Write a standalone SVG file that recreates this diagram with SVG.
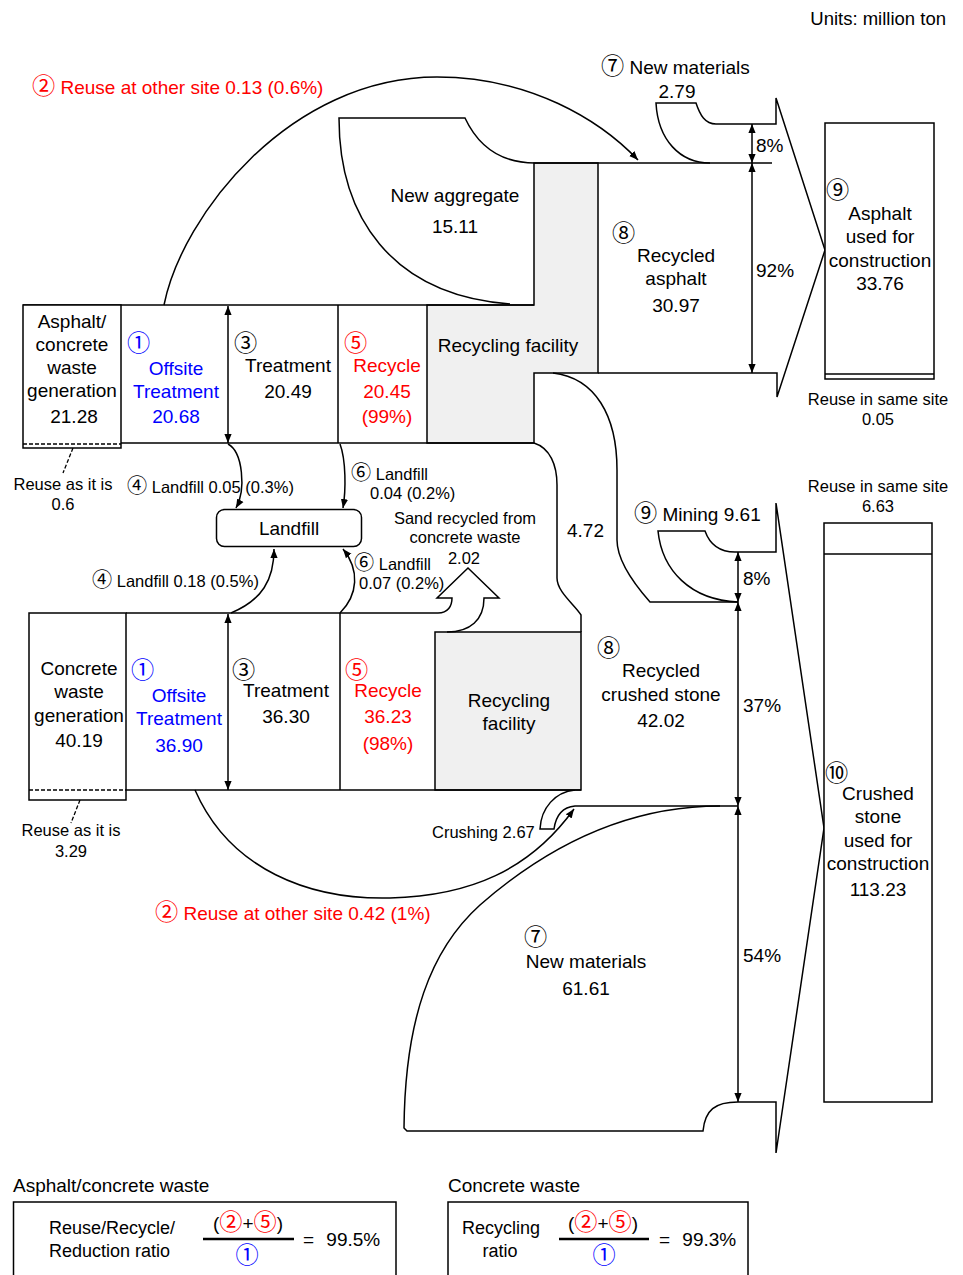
<svg xmlns="http://www.w3.org/2000/svg" width="963" height="1275" viewBox="0 0 963 1275">
<defs>
<marker id="ah" viewBox="0 0 10 10" refX="10" refY="5" markerWidth="9" markerHeight="9" markerUnits="userSpaceOnUse" orient="auto-start-reverse">
<path d="M0,1 L10,5 L0,9 z" fill="#000"/>
</marker>
<style>
text{font-family:"Liberation Sans","Noto Sans CJK JP",sans-serif;font-size:19px;fill:#000}
.s{font-size:16.5px}
.c{text-anchor:middle}
.r{fill:#f00}
.b{fill:#00f}
.k{font-size:1.22em}
.ln{fill:none;stroke:#000;stroke-width:1.5}
.box{fill:#fff;stroke:#000;stroke-width:1.5}
.grey{fill:#f0f0f0;stroke:#000;stroke-width:1.5}
.dash{fill:none;stroke:#000;stroke-width:1.3;stroke-dasharray:4 2}
.arr{fill:none;stroke:#000;stroke-width:1.5;marker-end:url(#ah)}
.dbl{fill:none;stroke:#000;stroke-width:1.5;marker-start:url(#ah);marker-end:url(#ah)}
</style>
</defs>
<rect width="963" height="1275" fill="#fff"/>

<text x="946" y="25" text-anchor="end" style="font-size:18.5px">Units: million ton</text>

<!-- Asphalt flow -->
<g id="asphalt-flow">
<polygon class="grey" points="427,305 534,305 534,163 598,163 598,373 534,373 534,443 427,443"/>
<path class="ln" d="M23,305 L534,305 M121,443 L534,443 M338,305 L338,443"/>
<path class="ln" d="M510,304 C390,295 339,215 339,118 L465,118 C480,150 505,163 535,163 L772,163"/>
<path class="ln" d="M710,163 C680,163 658,140 656,103 L696,103 C700,115 705,124 716,124 L776,124 L776,98 L825,250 L777,397 L777,373 L598,373"/>
<path class="ln" d="M553,373 C595,378 617,415 617,470 L617,540 C617,560 635,585 650,602 L738,602"/>
<path class="ln" d="M534,443 C550,448 557,465 557,485 L557,578 C557,592 575,605 581,615 L581,632"/>
</g>

<g id="asphalt-generation">
<rect class="box" x="23" y="305" width="98" height="143"/>
<line class="dash" x1="23" y1="444" x2="121" y2="444"/>
<text class="c" x="72" y="328">Asphalt/</text>
<text class="c" x="72" y="351">concrete</text>
<text class="c" x="72" y="374">waste</text>
<text class="c" x="72" y="397">generation</text>
<text class="c" x="74" y="423">21.28</text>
</g>
<g id="asphalt-offsite">
<text class="b" x="127" y="351"><tspan class="k">①</tspan></text>
<text class="c b" x="176" y="375">Offsite</text>
<text class="c b" x="176" y="398">Treatment</text>
<text class="c b" x="176" y="423">20.68</text>
</g>
<g id="asphalt-treatment">
<text x="234" y="351"><tspan class="k">③</tspan></text>
<text class="c" x="288" y="372">Treatment</text>
<text class="c" x="288" y="398">20.49</text>
</g>
<g id="asphalt-recycle">
<text class="r" x="344" y="351"><tspan class="k">⑤</tspan></text>
<text class="c r" x="387" y="372">Recycle</text>
<text class="c r" x="387" y="398">20.45</text>
<text class="c r" x="387" y="423">(99%)</text>
</g>
<g id="asphalt-facility">
<text class="c" x="508" y="352">Recycling facility</text>
</g>
<g id="new-aggregate">
<text class="c" x="455" y="202">New aggregate</text>
<text class="c" x="455" y="233">15.11</text>
</g>
<g id="asphalt-new-materials">
<text x="601" y="74"><tspan class="k">⑦</tspan> New materials</text>
<text class="c" x="677" y="98">2.79</text>
</g>
<g id="recycled-asphalt">
<text x="612" y="241"><tspan class="k">⑧</tspan></text>
<text class="c" x="676" y="262">Recycled</text>
<text class="c" x="676" y="285">asphalt</text>
<text class="c" x="676" y="312">30.97</text>
</g>
<g id="asphalt-construction">
<rect class="box" x="825" y="123" width="109" height="256"/>
<line class="ln" x1="825" y1="374" x2="934" y2="374"/>
<text x="826" y="198"><tspan class="k">⑨</tspan></text>
<text class="c" x="880" y="220">Asphalt</text>
<text class="c" x="880" y="243">used for</text>
<text class="c" x="880" y="267">construction</text>
<text class="c" x="880" y="290">33.76</text>
<text class="c s" x="878" y="405">Reuse in same site</text>
<text class="c s" x="878" y="425">0.05</text>
</g>

<!-- Crushed stone flow -->
<g id="crushed-flow">
<path class="ln" d="M738,602 C690,600 662,570 658,531 L705,531 C710,545 720,552 735,552 L776,552 L776,503 L824,828 L776,1153 L776,1102 L738,1102 C715,1102 705,1110 703,1131 L407,1131 L404,1128 C405,1020 430,950 480,905 C560,835 640,806 720,806"/>
<path class="ln" d="M575,790 C555,792 541,808 540,829 L554,829 C556,815 563,807 575,806 L738,806"/>
</g>

<!-- Concrete flow -->
<g id="concrete-flow">
<rect class="grey" x="435" y="632" width="146" height="158"/>
<path class="ln" d="M126,613 L438,613 C448,613 452,606 452,598 L437,598 L468,568 L499,598 L484,598 C484,620 470,632 447,632"/>
<path class="ln" d="M126,790 L581,790 M340,613 L340,790"/>
</g>
<g id="concrete-generation">
<rect class="box" x="29" y="613" width="97" height="187"/>
<line class="dash" x1="29" y1="790" x2="126" y2="790"/>
<text class="c" x="79" y="675">Concrete</text>
<text class="c" x="79" y="698">waste</text>
<text class="c" x="79" y="722">generation</text>
<text class="c" x="79" y="747">40.19</text>
</g>
<g id="concrete-offsite">
<text class="b" x="131" y="678"><tspan class="k">①</tspan></text>
<text class="c b" x="179" y="702">Offsite</text>
<text class="c b" x="179" y="725">Treatment</text>
<text class="c b" x="179" y="752">36.90</text>
</g>
<g id="concrete-treatment">
<text x="232" y="678"><tspan class="k">③</tspan></text>
<text class="c" x="286" y="697">Treatment</text>
<text class="c" x="286" y="723">36.30</text>
</g>
<g id="concrete-recycle">
<text class="r" x="345" y="678"><tspan class="k">⑤</tspan></text>
<text class="c r" x="388" y="697">Recycle</text>
<text class="c r" x="388" y="723">36.23</text>
<text class="c r" x="388" y="750">(98%)</text>
</g>
<g id="concrete-facility">
<text class="c" x="509" y="707">Recycling</text>
<text class="c" x="509" y="730">facility</text>
</g>
<g id="recycled-crushed-stone">
<text x="597" y="656"><tspan class="k">⑧</tspan></text>
<text class="c" x="661" y="677">Recycled</text>
<text class="c" x="661" y="701">crushed stone</text>
<text class="c" x="661" y="727">42.02</text>
</g>
<g id="mining">
<text x="634" y="521"><tspan class="k">⑨</tspan> Mining 9.61</text>
</g>
<g id="concrete-new-materials">
<text x="524" y="945"><tspan class="k">⑦</tspan></text>
<text class="c" x="586" y="968">New materials</text>
<text class="c" x="586" y="995">61.61</text>
</g>
<g id="crushed-construction">
<rect class="box" x="824" y="523" width="108" height="579"/>
<line class="ln" x1="824" y1="554" x2="932" y2="554"/>
<text class="c s" x="878" y="492">Reuse in same site</text>
<text class="c s" x="878" y="512">6.63</text>
<text x="825" y="781"><tspan class="k">⑩</tspan></text>
<text class="c" x="878" y="800">Crushed</text>
<text class="c" x="878" y="823">stone</text>
<text class="c" x="878" y="847">used for</text>
<text class="c" x="878" y="870">construction</text>
<text class="c" x="878" y="896">113.23</text>
</g>
<g id="landfill">
<rect class="box" x="216.5" y="509.5" width="145" height="37" rx="8"/>
<text class="c" x="289" y="535">Landfill</text>
</g>

<!-- Connectors -->
<g id="connectors">
<path class="arr" d="M164,305 C182,215 290,77 437,77 C530,77 600,120 638,160"/>
<path class="arr" d="M195,790 C230,870 310,900 390,898 C470,896 530,870 574,809"/>
<path class="arr" d="M228,444 C243,452 246,490 236,508"/>
<path class="arr" d="M340,444 C346,460 346,490 343,508"/>
<path class="arr" d="M231,613 C262,600 274,580 274,549"/>
<path class="arr" d="M340,613 C358,595 360,570 343,549"/>
<path class="dbl" d="M228,306 L228,443"/>
<path class="dbl" d="M228,614 L228,790"/>
<path class="dbl" d="M752,124 L752,163"/>
<path class="dbl" d="M752,163 L752,373"/>
<path class="dbl" d="M738,552 L738,602"/>
<path class="dbl" d="M738,602 L738,806"/>
<path class="dbl" d="M738,806 L738,1102"/>
<path class="dash" d="M73,448 L63,473"/>
<path class="dash" d="M80,800 L71,823"/>
</g>

<g id="labels">
<text class="r" x="32" y="94"><tspan class="k">②</tspan> Reuse at other site 0.13 (0.6%)</text>
<text x="756" y="152">8%</text>
<text x="756" y="277">92%</text>
<text class="c s" x="63" y="490">Reuse as it is</text>
<text class="c s" x="63" y="510">0.6</text>
<text class="s" x="127" y="493"><tspan class="k">④</tspan> Landfill 0.05 (0.3%)</text>
<text class="s" x="351" y="480"><tspan class="k">⑥</tspan> Landfill</text>
<text class="s" x="370" y="499">0.04 (0.2%)</text>
<text class="c s" x="465" y="524">Sand recycled from</text>
<text class="c s" x="465" y="543">concrete waste</text>
<text class="c s" x="464" y="564">2.02</text>
<text class="s" x="354" y="570"><tspan class="k">⑥</tspan> Landfill</text>
<text class="s" x="359" y="589">0.07 (0.2%)</text>
<text class="s" x="92" y="587"><tspan class="k">④</tspan> Landfill 0.18 (0.5%)</text>
<text x="567" y="537">4.72</text>
<text x="743" y="585">8%</text>
<text x="743" y="712">37%</text>
<text x="743" y="962">54%</text>
<text class="c s" x="71" y="836">Reuse as it is</text>
<text class="c s" x="71" y="857">3.29</text>
<text class="s" x="432" y="838">Crushing 2.67</text>
<text class="r" x="155" y="920"><tspan class="k">②</tspan> Reuse at other site 0.42 (1%)</text>
</g>

<!-- Ratios -->
<g id="ratio-asphalt-concrete">
<text x="13" y="1192">Asphalt/concrete waste</text>
<rect class="box" x="13.5" y="1202" width="382.5" height="90"/>
<text x="49" y="1234" style="font-size:18px">Reuse/Recycle/</text>
<text x="49" y="1257" style="font-size:18px">Reduction ratio</text>
<text class="c" x="248" y="1230">(<tspan class="r k">②</tspan>+<tspan class="r k">⑤</tspan>)</text>
<line x1="203" y1="1239" x2="294" y2="1239" stroke="#000" stroke-width="2.5"/>
<text class="c b" x="247" y="1263"><tspan class="k">①</tspan></text>
<text x="303" y="1246" style="word-spacing:7px">= 99.5%</text>
</g>
<g id="ratio-concrete">
<text x="448" y="1192">Concrete waste</text>
<rect class="box" x="448" y="1202" width="300" height="90"/>
<text x="462" y="1234" style="font-size:18px">Recycling</text>
<text class="c" x="500" y="1257" style="font-size:18px">ratio</text>
<text class="c" x="603" y="1230">(<tspan class="r k">②</tspan>+<tspan class="r k">⑤</tspan>)</text>
<line x1="559" y1="1239" x2="649" y2="1239" stroke="#000" stroke-width="2.5"/>
<text class="c b" x="604" y="1263"><tspan class="k">①</tspan></text>
<text x="659" y="1246" style="word-spacing:7px">= 99.3%</text>
</g>
</svg>
